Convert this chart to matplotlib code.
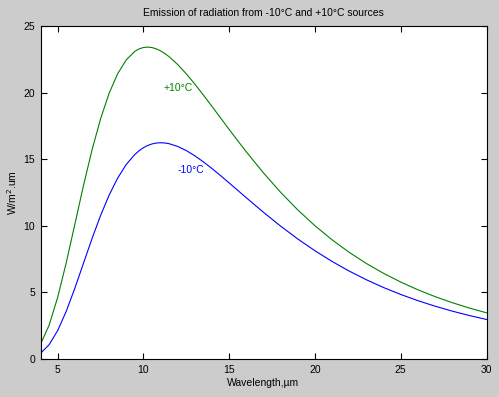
import matplotlib
matplotlib.use("Agg")
import matplotlib.pyplot as plt

wavelength = [4, 4.5, 5, 5.5, 6, 6.5, 7, 7.5, 8, 8.5, 9, 9.5, 9.75, 10, 10.25, 10.5, 10.75,
              11, 11.25, 11.5, 12, 12.5, 13, 13.5, 14, 14.5, 15, 15.5, 16, 17, 18, 19, 20,
              21, 22, 23, 24, 25, 26, 27, 28, 29, 30]
cold = [0.423, 1.072, 2.134, 3.580, 5.306, 7.169, 9.027, 10.765, 12.300, 13.586,
        14.605, 15.357, 15.639, 15.862, 16.030, 16.146, 16.213,
        16.236, 16.217, 16.163, 15.958, 15.646, 15.252, 14.795, 14.295, 13.764,
        13.215, 12.659, 12.103, 11.011, 9.974, 9.010, 8.125,
        7.322, 6.598, 5.948, 5.365, 4.845, 4.380, 3.965, 3.595, 3.264, 2.968]
warm = [1.111, 2.529, 4.619, 7.225, 10.101, 12.990, 15.678, 18.023, 19.947, 21.421,
        22.459, 23.099, 23.282, 23.386, 23.417, 23.381, 23.284,
        23.132, 22.933, 22.692, 22.105, 21.408, 20.635, 19.811, 18.958, 18.095,
        17.232, 16.381, 15.550, 13.968, 12.511, 11.191, 10.003,
        8.945, 8.004, 7.169, 6.430, 5.776, 5.197, 4.684, 4.230, 3.827, 3.468]
xticks = [5, 10, 15, 20, 25, 30]
yticks = [0, 5, 10, 15, 20, 25]

plt.rcParams['font.family'] = ['Liberation Sans', 'DejaVu Sans']
fig = plt.figure(figsize=(4.99, 3.97), dpi=100, facecolor='#cccccc')
ax = fig.add_axes([40.5/499, 1 - 359/397, 446/499, 333/397])
ax.set_facecolor('white')
ax.plot(wavelength, warm, color='#008000', lw=0.8)
ax.plot(wavelength, cold, color='#0000ff', lw=0.8)
ax.set_xlim(4, 30)
ax.set_ylim(0, 25)
ax.set_xticks(xticks)
ax.set_yticks(yticks)
ax.tick_params(direction='in', top=True, right=True, labelsize=7.5, length=4, width=0.8, pad=4)
for s in ax.spines.values():
    s.set_linewidth(0.8)
ax.text(11.2, 20.35, '+10°C', color='#008000', fontsize=7.5, va='center', ha='left')
ax.text(12.0, 14.2, '-10°C', color='#0000ff', fontsize=7.5, va='center', ha='left')
ax.set_title('Emission of radiation from -10°C and +10°C sources', fontsize=7.5, pad=7)
ax.set_xlabel('Wavelength,µm', fontsize=7.5, labelpad=2.5)
ax.set_ylabel('W/m$^2$.um', fontsize=7.5, labelpad=3)
fig.savefig('out.png', dpi=100, facecolor='#cccccc')
